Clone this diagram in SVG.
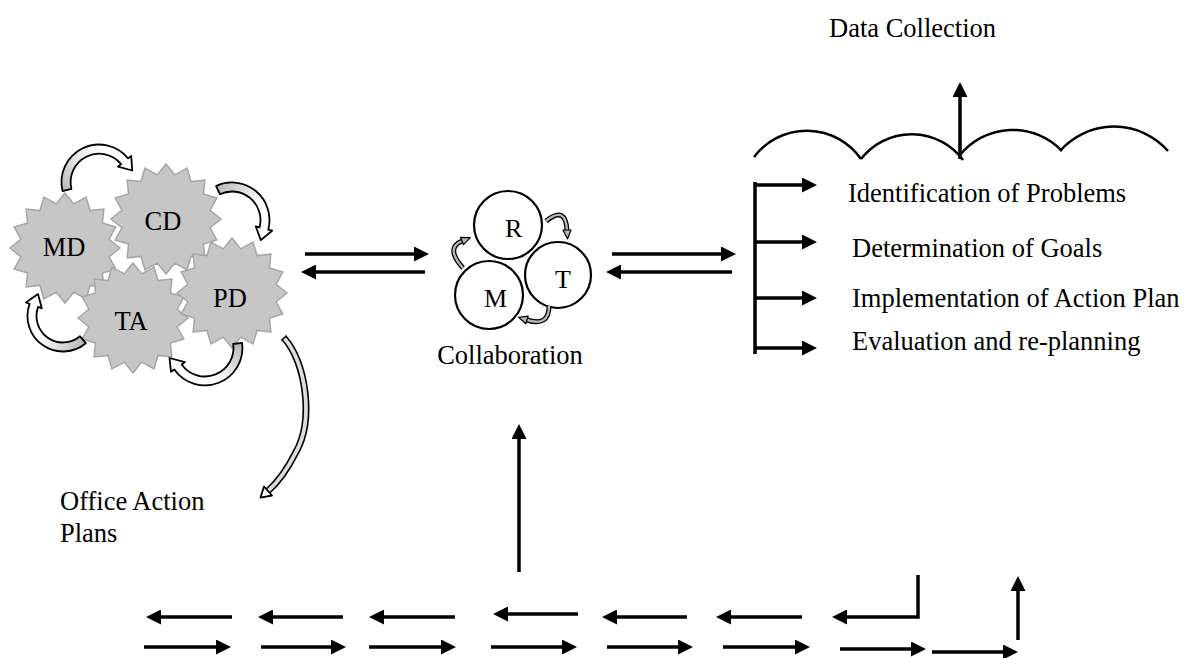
<svg xmlns="http://www.w3.org/2000/svg" xmlns:xlink="http://www.w3.org/1999/xlink" width="1186" height="658" viewBox="0 0 1186 658">
<style>
  text { font-family: "Liberation Serif", "Times New Roman", serif; fill: #000; }
  .lbl { font-size: 26.5px; }
  .sm { font-size: 26px; }
  .star { fill: #c6c6c6; stroke: #a6a6a6; stroke-width: 1.5; }
  .ring { fill: #fff; stroke: #000; stroke-width: 2.2; }
  .ar { fill: none; stroke: #000; stroke-width: 3.5; marker-end: url(#ah); }
  .plain { fill: none; stroke: #000; stroke-width: 3.5; }
  .cloud { fill: none; stroke: #000; stroke-width: 2.5; }
  .blk { stroke: #000; stroke-width: 1.8; stroke-linejoin: round; }
  .sOut { fill: none; stroke: #000; stroke-width: 5; }
  .sIn { fill: none; stroke: #b5b5b5; stroke-width: 2.4; }
  .sHead { fill: #b5b5b5; stroke: #000; stroke-width: 1.2; stroke-linejoin: round; }
</style>
<defs>
  <marker id="ah" viewBox="0 0 15 15" refX="1" refY="7.5" markerWidth="15" markerHeight="15" markerUnits="userSpaceOnUse" orient="auto">
    <path d="M0,0 L15,7.5 L0,15 z" fill="#000"/>
  </marker>
  <polygon id="starShape" points="0,-55 8.78,-44.14 21.05,-50.81 25,-37.42 38.89,-38.89 37.42,-25 50.81,-21.05 44.14,-8.78 55,0 44.14,8.78 50.81,21.05 37.42,25 38.89,38.89 25,37.42 21.05,50.81 8.78,44.14 0,55 -8.78,44.14 -21.05,50.81 -25,37.42 -38.89,38.89 -37.42,25 -50.81,21.05 -44.14,8.78 -55,0 -44.14,-8.78 -50.81,-21.05 -37.42,-25 -38.89,-38.89 -25,-37.42 -21.05,-50.81 -8.78,-44.14"/>
  <linearGradient id="g1" gradientUnits="userSpaceOnUse" x1="65" y1="195" x2="100" y2="150">
    <stop offset="0" stop-color="#b8b8b8"/><stop offset="1" stop-color="#ffffff"/>
  </linearGradient>
  <linearGradient id="g2" gradientUnits="userSpaceOnUse" x1="216" y1="188" x2="262" y2="205">
    <stop offset="0" stop-color="#b8b8b8"/><stop offset="1" stop-color="#ffffff"/>
  </linearGradient>
  <linearGradient id="g3" gradientUnits="userSpaceOnUse" x1="85" y1="340" x2="40" y2="330">
    <stop offset="0" stop-color="#b8b8b8"/><stop offset="1" stop-color="#ffffff"/>
  </linearGradient>
  <linearGradient id="g4" gradientUnits="userSpaceOnUse" x1="238" y1="343" x2="215" y2="380">
    <stop offset="0" stop-color="#b8b8b8"/><stop offset="1" stop-color="#ffffff"/>
  </linearGradient>
</defs>

<g id="node-MD">
  <use xlink:href="#starShape" href="#starShape" class="star" transform="translate(65,248)"/>
  <text class="lbl" x="64" y="256" text-anchor="middle">MD</text>
</g>
<g id="node-CD">
  <use xlink:href="#starShape" href="#starShape" class="star" transform="translate(166,219)"/>
  <text class="lbl" x="163" y="230" text-anchor="middle">CD</text>
</g>
<g id="node-TA">
  <use xlink:href="#starShape" href="#starShape" class="star" transform="translate(133,318)"/>
  <text class="lbl" x="131" y="330" text-anchor="middle">TA</text>
</g>
<g id="node-PD">
  <use xlink:href="#starShape" href="#starShape" class="star" transform="translate(232,293)"/>
  <text class="lbl" x="230" y="307" text-anchor="middle">PD</text>
</g>

<g id="node-office-plans">
  <text class="lbl" x="60" y="510">Office Action</text>
  <text class="lbl" x="60" y="542">Plans</text>
</g>

<g id="node-collaboration">
  <circle id="node-R" class="ring" cx="508" cy="225" r="34"/>
  <circle id="node-M" class="ring" cx="489" cy="295" r="34"/>
  <circle id="node-T" class="ring" cx="558" cy="275" r="33"/>
  <text class="sm" x="505" y="237">R</text>
  <text class="sm" x="555" y="288">T</text>
  <text class="sm" x="484" y="307">M</text>
  <text class="lbl" x="510" y="364" text-anchor="middle">Collaboration</text>
</g>

<g id="node-data-collection">
  <text class="lbl" x="829" y="37">Data Collection</text>
  <path class="cloud" d="M754,157 A66,66 0 0 1 861,159"/>
  <path class="cloud" d="M861,159 A64,64 0 0 1 963,160"/>
  <path class="cloud" d="M960,155 A68,68 0 0 1 1062,151"/>
  <path class="cloud" d="M1060,151 A72,72 0 0 1 1168,151"/>
</g>

<g id="node-steps">
  <text class="lbl" x="848" y="202">Identification of Problems</text>
  <text class="lbl" x="852" y="257">Determination of Goals</text>
  <text class="lbl" x="852" y="307">Implementation of Action Plan</text>
  <text class="lbl" x="852" y="350">Evaluation and re-planning</text>
</g>

<g id="connectors">
  <path class="blk" fill="url(#g1)" d="M62.6,191.1 A37.5,37.5 0 0 1 128.1,158.4 L131.2,155.9 L132.2,170.5 L118.0,166.6 L121.1,164.1 A28.5,28.5 0 0 0 71.4,188.9 Z"/>
  <path class="blk" fill="url(#g2)" d="M216.1,186.0 A37.5,37.5 0 0 1 268.2,229.7 L272.1,230.7 L260.8,240.1 L255.7,226.3 L259.5,227.4 A28.5,28.5 0 0 0 219.9,194.2 Z"/>
  <path class="blk" fill="url(#g3)" d="M85.8,343.2 A35.5,35.5 0 0 1 29.6,303.9 L25.9,302.5 L38.0,294.1 L41.8,308.3 L38.1,306.9 A26.5,26.5 0 0 0 80.0,336.3 Z"/>
  <path class="blk" fill="url(#g4)" d="M242.1,342.8 A37.5,37.5 0 0 1 174.3,369.5 L171.0,371.8 L169.5,358.0 L184.9,362.1 L181.7,364.4 A28.5,28.5 0 0 0 233.2,344.0 Z"/>
  <path fill="none" stroke="#000" stroke-width="7" d="M284,338 C306,362 314,420 296,452 C287,470 277,483 268,491"/>
  <path fill="none" stroke="#dcdcdc" stroke-width="3.8" d="M284,338 C306,362 314,420 296,452 C287,470 277,483 268,491"/>
  <line x1="286.6" y1="335.5" x2="281.4" y2="340.5" stroke="#000" stroke-width="1.5"/>
  <polygon class="blk" fill="#fff" points="272,495.5 264,486.5 260.5,497.6"/>

  <path class="sOut" d="M546,221 Q566,205 567,231"/>
  <path class="sIn" d="M546,221 Q566,205 567,231"/>
  <polygon class="sHead" points="563,230 571,230 567.5,239"/>
  <path class="sOut" d="M463,268 Q445,248 462,241"/>
  <path class="sIn" d="M463,268 Q445,248 462,241"/>
  <polygon class="sHead" points="463.5,244.7 460.5,237.3 470.3,237.6"/>
  <path class="sOut" d="M549,306 Q549,327 527,320"/>
  <path class="sIn" d="M549,306 Q549,327 527,320"/>
  <polygon class="sHead" points="528.2,316.2 525.8,323.8 518.6,317.3"/>

  <line class="ar" x1="305" y1="254" x2="415" y2="254"/>
  <line class="ar" x1="425" y1="272" x2="315" y2="272"/>
  <line class="ar" x1="612" y1="254" x2="722" y2="254"/>
  <line class="ar" x1="732" y1="272" x2="620" y2="272"/>
  <line class="ar" x1="519" y1="572" x2="519" y2="438"/>
  <line class="ar" x1="960" y1="159" x2="960" y2="96"/>

  <line class="plain" x1="755" y1="182" x2="755" y2="354"/>
  <line class="ar" x1="755" y1="185" x2="803" y2="185"/>
  <line class="ar" x1="755" y1="242" x2="803" y2="242"/>
  <line class="ar" x1="755" y1="298" x2="803" y2="298"/>
  <line class="ar" x1="755" y1="348" x2="803" y2="348"/>

  <line class="ar" x1="232" y1="617" x2="160" y2="617"/>
  <line class="ar" x1="343" y1="617" x2="272" y2="617"/>
  <line class="ar" x1="455" y1="617" x2="383" y2="617"/>
  <line class="ar" x1="578" y1="614" x2="507" y2="614"/>
  <line class="ar" x1="687" y1="617" x2="616" y2="617"/>
  <line class="ar" x1="802" y1="617" x2="730" y2="617"/>
  <path class="ar" d="M918,575 V617 H846"/>

  <line class="ar" x1="144" y1="647" x2="217" y2="647"/>
  <line class="ar" x1="261" y1="647" x2="332" y2="647"/>
  <line class="ar" x1="369" y1="647" x2="442" y2="647"/>
  <line class="ar" x1="491" y1="647" x2="563" y2="647"/>
  <line class="ar" x1="607" y1="647" x2="679" y2="647"/>
  <line class="ar" x1="723" y1="647" x2="796" y2="647"/>
  <line class="ar" x1="840" y1="649" x2="912" y2="649"/>
  <line class="ar" x1="932" y1="652" x2="1004" y2="652"/>
  <line class="ar" x1="1018" y1="640" x2="1018" y2="590"/>
</g>
</svg>
